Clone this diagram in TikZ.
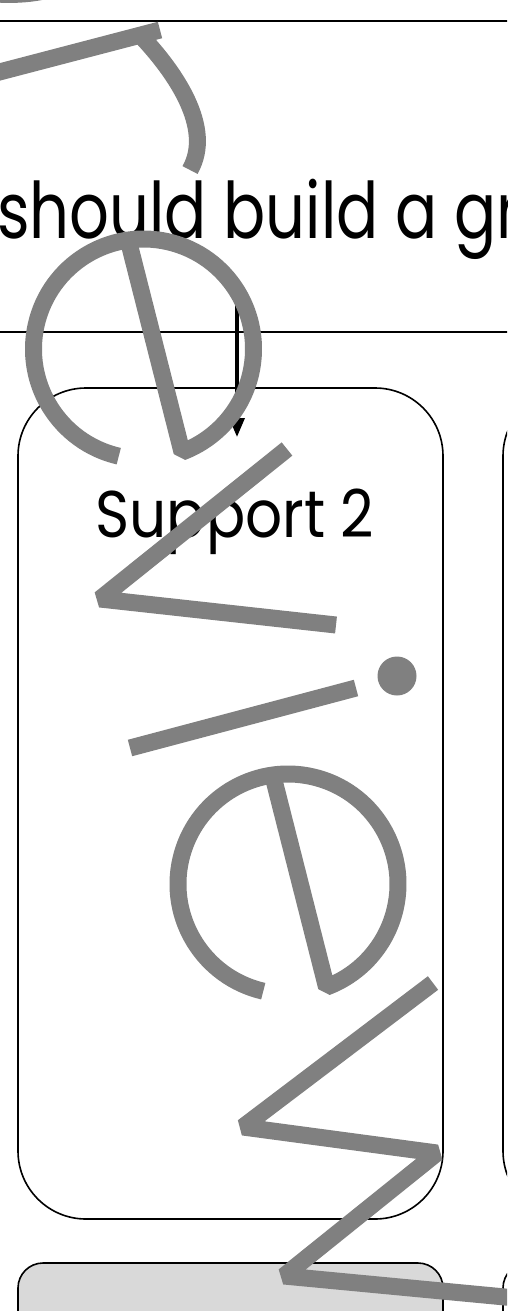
\documentclass[tikz,border=0pt]{standalone}
\usepackage{fontspec}
\setmainfont{Poppins}
\usetikzlibrary{arrows.meta,calc}
\definecolor{wmgray}{HTML}{808080}
\definecolor{boxgray}{HTML}{D9D9D9}
\begin{document}
\begin{tikzpicture}[x=1pt,y=-1pt,
  wm/.style={draw=wmgray, line width=17pt, line join=bevel, line cap=butt},
  tallbox/.style={draw=black, line width=1.6pt, rounded corners=68pt, minimum width=425pt, minimum height=831pt, inner sep=0pt},
  lowbox/.style={draw=black, line width=1.6pt, rounded corners=25pt, minimum width=425pt, minimum height=137pt, inner sep=0pt},
  rule/.style={draw=black, line width=1.8pt},
  conn/.style={draw=black, line width=3.5pt, -{Triangle[width=15pt,length=19pt]}}]
\useasboundingbox (0,0) rectangle (507,1311);
\clip (0,0) rectangle (507,1311);
\fill[white] (0,0) rectangle (507,1311);
% rules
\coordinate (r1a) at (-5,21); \coordinate (r1b) at (512,21);
\coordinate (r2a) at (-5,332); \coordinate (r2b) at (512,332);
\draw[rule] (r1a) -- (r1b);
\draw[rule] (r2a) -- (r2b);
% heading
\node[anchor=base west, inner sep=0pt, font=\fontsize{78}{90}\selectfont] (head) at (-3,238) {\scalebox{0.8}[1]{should build a gr}};
% boxes
\node[tallbox, fill=white] (box1) at (230.5,803.5) {};
\node[tallbox, fill=white] (box2) at (715.5,803.5) {};
\node[lowbox, fill=boxgray] (low1) at (230.5,1331.5) {};
\node[lowbox, fill=white] (low2) at (715.5,1331.5) {};
\node[anchor=base, inner sep=0pt, font=\fontsize{66}{76}\selectfont] (sup) at (235,537) {\scalebox{0.88}[1]{Support 2}};
% arrow
\coordinate (arrS) at (237,300);
\coordinate (arrE) at (237,437);
\draw[conn] (arrS) -- (arrE);
% watermark
\draw[wm] (-30,-9) .. controls (0,-4) and (30,-4) .. (55,-12);
\draw[wm] (-100,98) -- (160,30);
\draw[wm] (141,36) .. controls (175,72) and (214,128) .. (190,170);
\begin{scope}[shift={(143.5,349)}]
  \draw[wm] (103:110) arc[start angle=103, end angle=429.5, radius=110] -- (262:110);
\end{scope}
\draw[wm] (287,449) -- (100,599) -- (336,625);
\draw[wm] (130,748) -- (356,688);
\fill[wmgray] (397,676) circle[radius=19.5];
\begin{scope}[shift={(288,884)}]
  \draw[wm] (103:110) arc[start angle=103, end angle=429.5, radius=110] -- (262:110);
\end{scope}
\draw[wm] (433,983) -- (243,1127) -- (437,1153) -- (284,1276) -- (600,1306);
\end{tikzpicture}
\end{document}
